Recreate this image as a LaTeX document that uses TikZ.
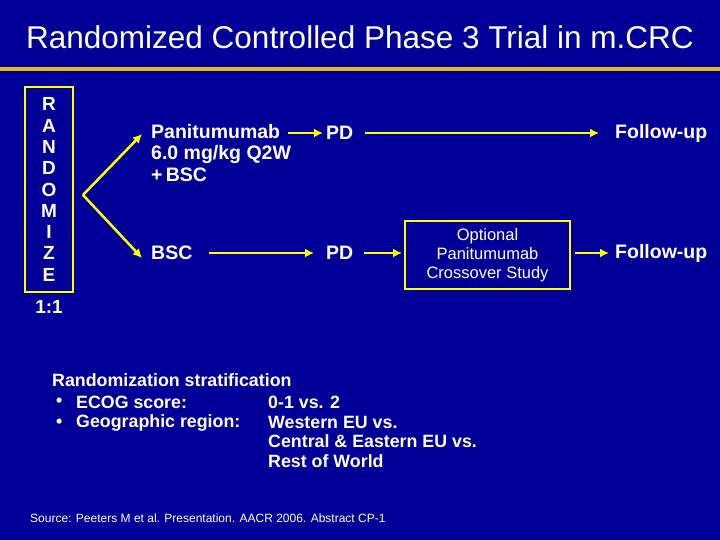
\documentclass[tikz,border=0pt]{standalone}
\usepackage{fontspec}
\setmainfont{Liberation Sans}
\usetikzlibrary{arrows.meta}
\definecolor{bg}{RGB}{0,0,153}
\definecolor{gold}{RGB}{230,185,30}
\definecolor{yel}{RGB}{255,255,0}
\begin{document}
\begin{tikzpicture}[x=1pt,y=-1pt,
  lbl/.style={text=white,font=\bfseries\fontsize{19.5}{22}\selectfont,inner sep=0,anchor=west},
  arr/.style={draw=yel,line width=2.5pt,-{Latex[length=9pt,width=9pt]}}]
\fill[bg] (0,0) rectangle (720,540);
\useasboundingbox (0,0) rectangle (720,540);
\node[text=white,font=\fontsize{31.5}{34}\selectfont] (title) at (360,37) {Randomized Controlled Phase 3 Trial in m.CRC};
\fill[gold] (0,67.5) rectangle (720,71);
\node[draw=yel,line width=2.5pt,minimum width=48,minimum height=205,inner sep=0,text=white,
  font=\bfseries\fontsize{19}{21.3}\selectfont,align=center] (rand) at (49,189.5)
  {R\\A\\N\\D\\O\\M\\I\\Z\\E};
\node[text=white,font=\bfseries\fontsize{19}{20}\selectfont] (ratio) at (49,307) {1:1};
\coordinate (split) at (83,195);
\node[lbl,anchor=north west,align=left,font=\bfseries\fontsize{19.5}{21.5}\selectfont] (pan) at (151,124) {Panitumumab\\6.0 mg/kg Q2W\\+\,BSC};
\coordinate (panw) at (142,134);
\node[lbl] (pd1) at (326,133) {PD};
\node[lbl] (fu1) at (615,133) {Follow-up};
\node[lbl] (bsc) at (151,253) {BSC};
\coordinate (bscw) at (142,258);
\node[lbl] (pd2) at (326,253) {PD};
\node[draw=yel,line width=2.5pt,minimum width=165,minimum height=68,inner sep=0,text=white,
  font=\fontsize{16.5}{19}\selectfont,align=center] (cross) at (487.5,255)
  {Optional\\Panitumumab\\Crossover Study};
\node[lbl] (fu2) at (615,253) {Follow-up};
\coordinate (a1s) at (288,133); \coordinate (a1e) at (323,133);
\coordinate (a2s) at (365,133); \coordinate (a2e) at (599,133);
\coordinate (a3s) at (209,253); \coordinate (a3e) at (314,253);
\coordinate (a4s) at (364,253); \coordinate (a4e) at (402,253);
\coordinate (a5s) at (575,253); \coordinate (a5e) at (609,253);
\draw[arr] (split) -- (panw);
\draw[arr] (split) -- (bscw);
\draw[arr] (a1s) -- (a1e);
\draw[arr] (a2s) -- (a2e);
\draw[arr] (a3s) -- (a3e);
\draw[arr] (a4s) -- (a4e);
\draw[arr] (a5s) -- (a5e);
\begin{scope}[every node/.style={text=white,font=\bfseries\fontsize{17.8}{20}\selectfont,inner sep=0,anchor=west}]
\node (strat) at (52,380) {Randomization stratification};
\node (b1) at (56,402) {\textbullet};
\node (ecog) at (76,402) {ECOG score:};
\node (ecogv) at (268,402) {0-1 vs. 2};
\node (b2) at (56,423) {\textbullet};
\node (geo) at (76,423) {Geographic region:};
\node[anchor=north west,align=left,font=\bfseries\fontsize{17.8}{19.5}\selectfont] (geov) at (268,416) {Western EU vs.\\Central \& Eastern EU vs.\\Rest of World};
\end{scope}
\node[text=white,font=\fontsize{12}{13}\selectfont,inner sep=0,anchor=west] (src) at (30,518) {Source: Peeters M et al. Presentation. AACR 2006. Abstract CP-1};
\end{tikzpicture}
\end{document}
